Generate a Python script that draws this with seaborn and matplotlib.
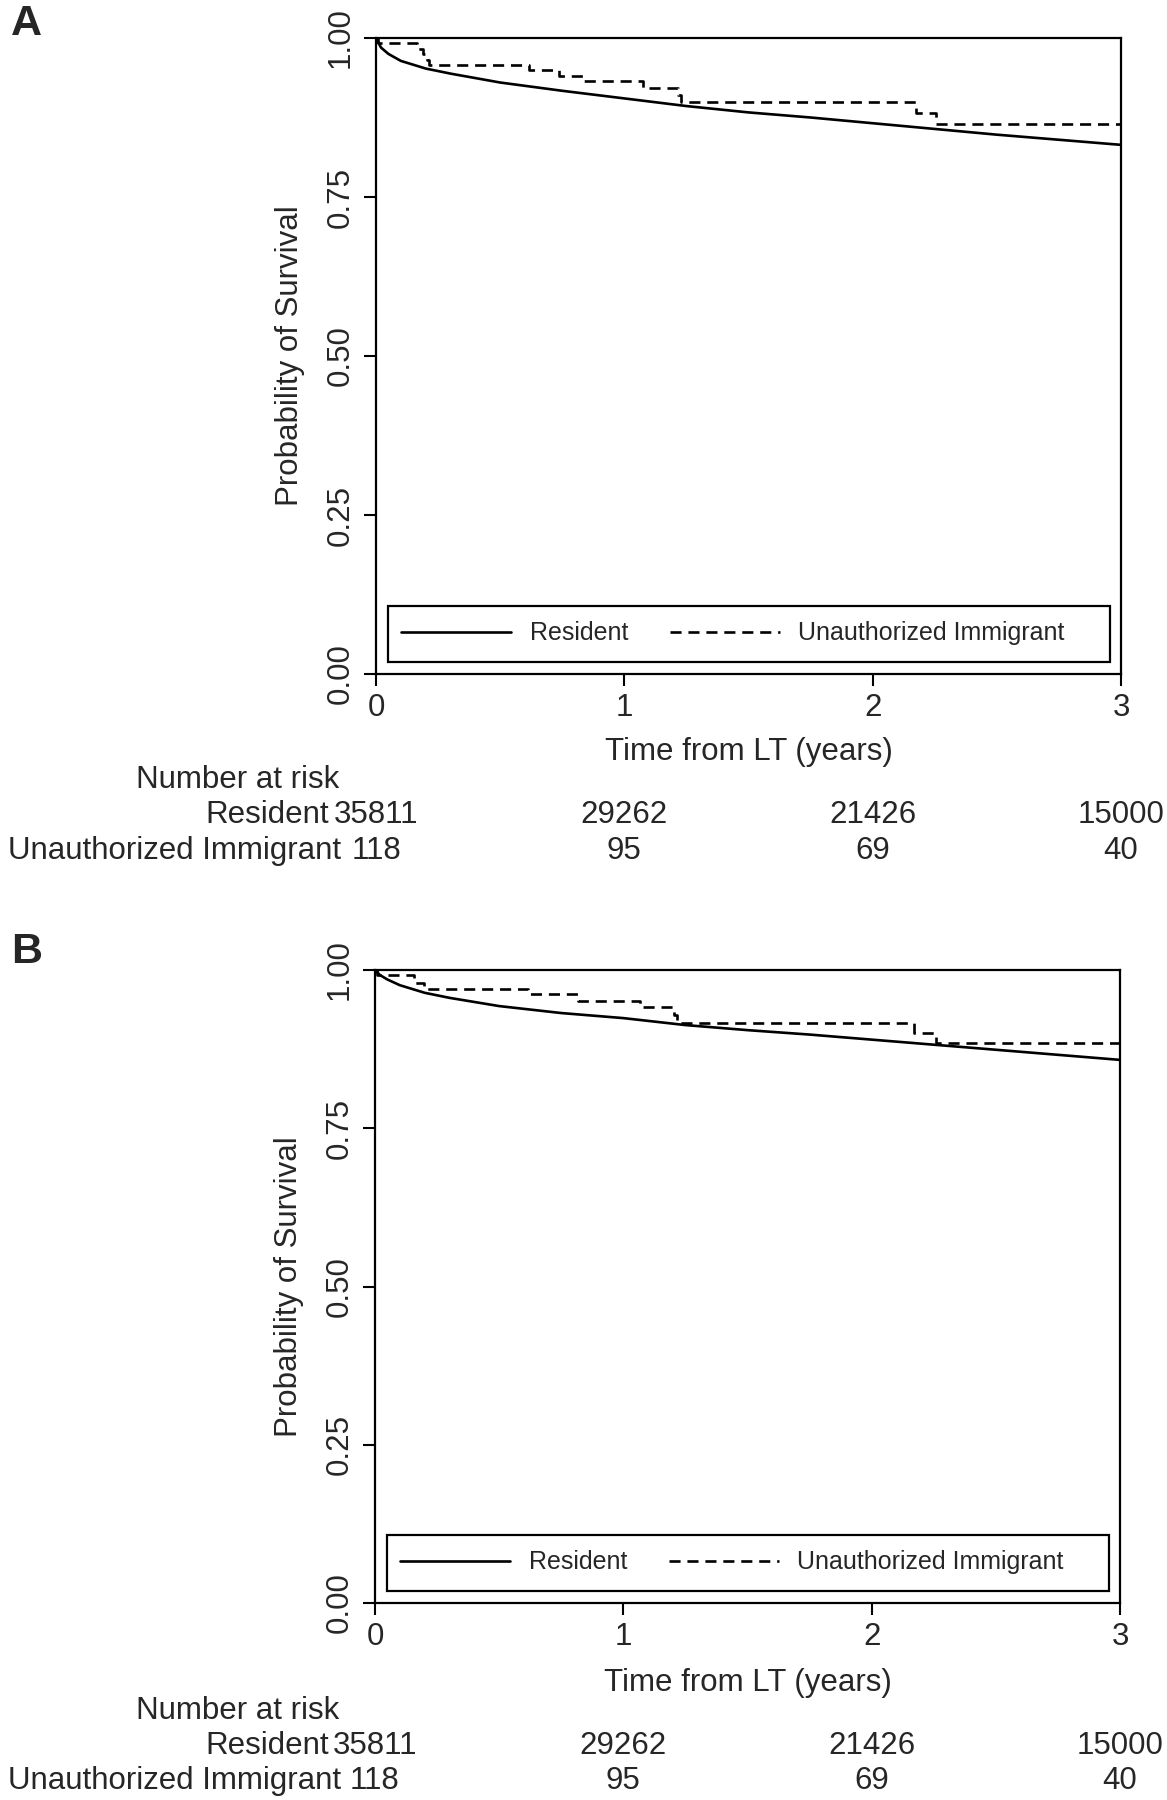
import matplotlib
matplotlib.use("Agg")
import matplotlib.pyplot as plt
import matplotlib.transforms as mtransforms
from matplotlib.patches import Rectangle
import seaborn as sns

# ---------------- data ----------------
groups = ["Resident", "Unauthorized Immigrant"]
risk_times = [0, 1, 2, 3]
risk_resident = ["35811", "29262", "21426", "15000"]
risk_immigrant = ["118", "95", "69", "40"]
x_ticks = [0, 1, 2, 3]
y_ticks = [0.00, 0.25, 0.50, 0.75, 1.00]
y_ticklabels = ["0.00", "0.25", "0.50", "0.75", "1.00"]

# Panel A
a_res_t = [0, 0.02, 0.05, 0.10, 0.20, 0.30, 0.50, 0.75, 1.00, 1.25, 1.50, 1.75, 2.00, 2.25, 2.50, 2.75, 3.00]
a_res_s = [1.0, 0.985, 0.975, 0.964, 0.952, 0.944, 0.930, 0.917, 0.905, 0.893, 0.883, 0.875, 0.866, 0.857, 0.848, 0.840, 0.832]
a_imm_t = [0, 0.01, 0.165, 0.19, 0.205, 0.215, 0.615, 0.735, 0.835, 1.075, 1.215, 1.23, 2.175, 2.255, 3.0]
a_imm_s = [1.0, 0.992, 0.983, 0.975, 0.966, 0.958, 0.950, 0.941, 0.932, 0.922, 0.911, 0.900, 0.882, 0.865, 0.865]

# Panel B
b_res_t = [0, 0.02, 0.05, 0.10, 0.20, 0.30, 0.50, 0.75, 1.00, 1.25, 1.50, 1.75, 2.00, 2.25, 2.50, 2.75, 3.00]
b_res_s = [1.0, 0.992, 0.985, 0.976, 0.964, 0.956, 0.943, 0.932, 0.924, 0.913, 0.905, 0.898, 0.890, 0.882, 0.874, 0.866, 0.858]
b_imm_t = [0, 0.01, 0.156, 0.196, 0.617, 0.818, 1.068, 1.205, 1.218, 2.17, 2.26, 3.0]
b_imm_s = [1.0, 0.992, 0.979, 0.970, 0.9616, 0.9515, 0.941, 0.929, 0.917, 0.900, 0.884, 0.884]

# ---------------- style ----------------
sns.set_theme(style="white")
plt.rcParams["font.family"] = ["Liberation Sans", "DejaVu Sans"]
plt.rcParams["axes.edgecolor"] = "black"
plt.rcParams["axes.linewidth"] = 1.6

W, H = 1167, 1800
fig = plt.figure(figsize=(W / 100, H / 100), dpi=100)
fig.patch.set_facecolor("white")

FS = 22.5


def panel(ax, res_t, res_s, imm_t, imm_s, letter, letter_y, xlab_y, nar_y, row1_y, row2_y):
    sns.lineplot(x=res_t, y=res_s, ax=ax, color="black", lw=2.7, estimator=None,
                 sort=False, label=groups[0])
    sns.lineplot(x=imm_t, y=imm_s, ax=ax, color="black", lw=2.4, estimator=None,
                 sort=False, drawstyle="steps-post", dashes=False, label=groups[1])
    ax.lines[1].set_dashes((4.2, 2.6))
    ax.set_xlim(0, 3)
    ax.set_ylim(0, 1)
    ax.set_xticks(x_ticks)
    ax.set_xticklabels([str(v) for v in x_ticks], fontsize=FS)
    ax.set_yticks(y_ticks)
    ax.set_yticklabels(y_ticklabels, fontsize=FS, rotation=90, va="center")
    ax.tick_params(axis="both", which="both", direction="out", length=8.5, width=1.5,
                   color="black", left=True, bottom=True, pad=5)
    ax.tick_params(axis="y", pad=6)
    for s in ax.spines.values():
        s.set_visible(True)
        s.set_color("black")
        s.set_linewidth(1.6)
    ax.set_xlabel("Time from LT (years)", fontsize=FS, va="center")
    ax.set_ylabel("Probability of Survival", fontsize=FS, va="center", ha="center")
    ax.yaxis.set_label_coords(-0.1154, 0.5)
    bb = ax.get_position()
    y_ax = (1 - xlab_y / H - bb.y0) / bb.height
    ax.xaxis.set_label_coords(0.5, y_ax)
    ax.grid(False)

    # legend
    handles, labels = ax.get_legend_handles_labels()
    for h in handles:
        h.set_linewidth(1.9)
    ax.legend(handles, labels, ncol=2, frameon=False, loc="center left",
              bbox_to_anchor=(0.034, 0.064), borderaxespad=0, borderpad=0,
              handlelength=4.4, handletextpad=0.75, columnspacing=1.65, fontsize=18)
    ax.add_patch(Rectangle((0.0161, 0.019), 0.969, 0.088, transform=ax.transAxes,
                           fill=False, edgecolor="black", lw=1.6, zorder=5))

    # panel letter
    fig.text(11 / W, 1 - letter_y / H, letter, fontsize=31, fontweight="bold",
             ha="left", va="center")

    # number at risk
    fig.text(238 / W, 1 - nar_y / H, "Number at risk", fontsize=FS, ha="center", va="center")
    fig.text(329 / W, 1 - row1_y / H, groups[0], fontsize=FS, ha="right", va="center")
    fig.text(341 / W, 1 - row2_y / H, groups[1], fontsize=FS, ha="right", va="center")
    tr = mtransforms.blended_transform_factory(ax.transData, fig.transFigure)
    for t, r1, r2 in zip(risk_times, risk_resident, risk_immigrant):
        ax.text(t, 1 - row1_y / H, r1, transform=tr, fontsize=FS, ha="center", va="center",
                clip_on=False)
        ax.text(t, 1 - row2_y / H, r2, transform=tr, fontsize=FS, ha="center", va="center",
                clip_on=False)


axA = fig.add_axes([376 / W, 1 - 674 / H, 745 / W, 636 / H])
axB = fig.add_axes([375 / W, 1 - 1603 / H, 745 / W, 633 / H])

panel(axA, a_res_t, a_res_s, a_imm_t, a_imm_s, "A", 24, 752, 780, 815, 851)
panel(axB, b_res_t, b_res_s, b_imm_t, b_imm_s, "B", 952, 1683, 1711, 1746, 1781)

fig.savefig("out.png", dpi=100, facecolor="white")
